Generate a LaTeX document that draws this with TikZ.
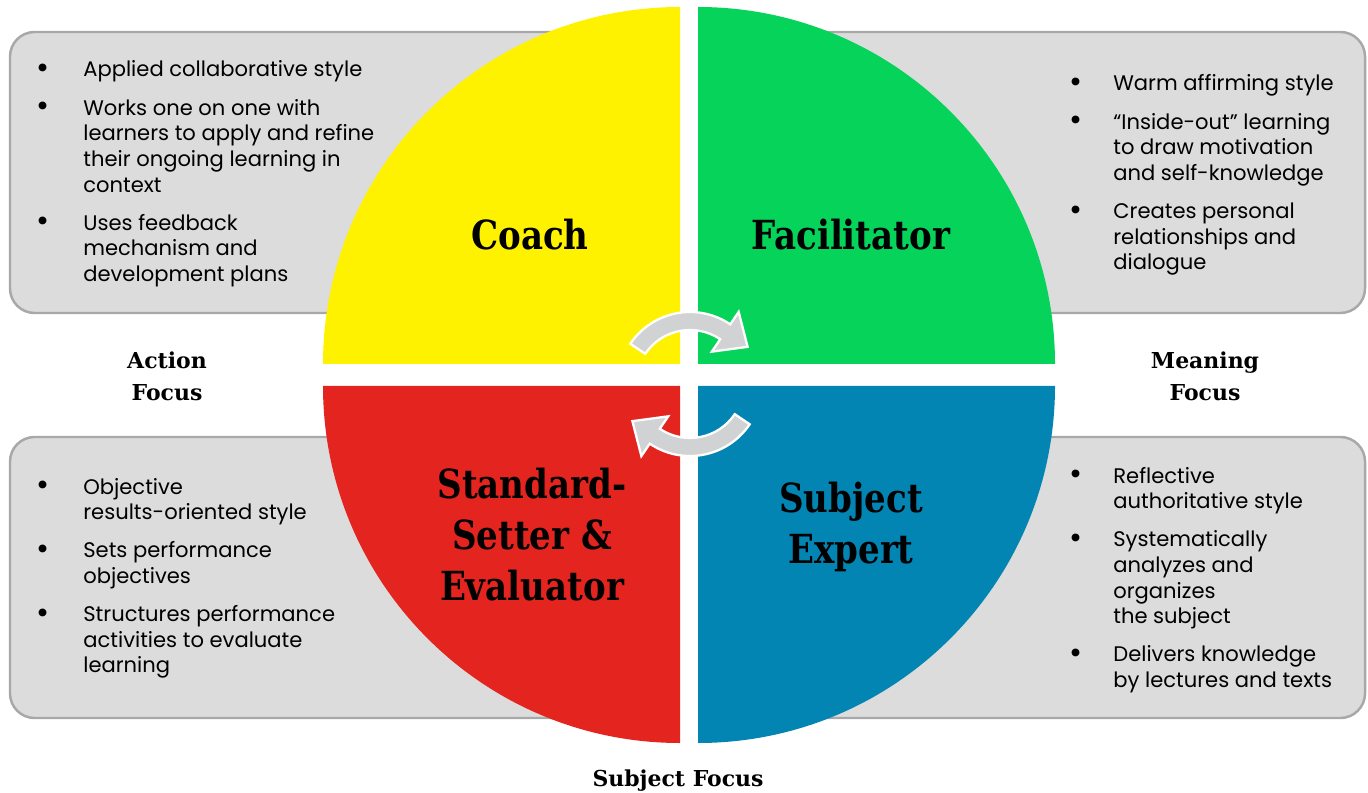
\documentclass[tikz,border=0pt]{standalone}
\usepackage{fontspec}
\setmainfont{Poppins}
\newfontfamily\headfont[FakeStretch=0.85]{DejaVu Serif}
\newfontfamily\focusfont{DejaVu Serif}
\usetikzlibrary{calc}
\newdimen\px \px=0.5691pt
\definecolor{coachyellow}{HTML}{FFF200}
\definecolor{facilgreen}{HTML}{05D35A}
\definecolor{setterred}{HTML}{E4241F}
\definecolor{expertblue}{HTML}{0385B4}
\definecolor{panelgray}{HTML}{DCDCDC}
\definecolor{panelline}{HTML}{A8A8A8}
\definecolor{arrowgray}{HTML}{D1D2D4}
\tikzset{
  panel/.style={fill=panelgray, draw=panelline, line width=1.4pt, rounded corners=14pt},
  turnarrow/.style={fill=arrowgray, draw=white, line width=1.3pt, line join=miter},
  listtext/.style={anchor=base west, inner sep=0pt, font=\fontsize{12}{14.6}\selectfont},
  rolelabel/.style={inner sep=0pt, align=center, font=\headfont\bfseries\fontsize{22.8}{29}\selectfont},
  focuslabel/.style={inner sep=0pt, align=center, font=\focusfont\bfseries\fontsize{12.5}{18.2}\selectfont}
}
\newcommand{\itemgap}{\\[12.5\px]}
\newcommand{\dotmark}{\raisebox{-0.15ex}{\fontsize{18}{10}\selectfont\textbullet}}
\begin{document}
\begin{tikzpicture}[x=0.02cm, y=-0.02cm]
  \useasboundingbox (0,0) rectangle (1368,793);
  \draw[panel] (10,32) rectangle (640,313);
  \draw[panel] (740,32) rectangle (1365,313);
  \draw[panel] (10,437) rectangle (640,718);
  \draw[panel] (740,437) rectangle (1365,718);
  \fill[coachyellow] (680,364) -- (323,364) arc[start angle=180, end angle=270, radius=357] -- cycle;
  \fill[facilgreen] (698,364) -- (698,7) arc[start angle=270, end angle=360, radius=357] -- cycle;
  \fill[setterred] (680,386) -- (680,743) arc[start angle=90, end angle=180, radius=357] -- cycle;
  \fill[expertblue] (698,386) -- (1055,386) arc[start angle=0, end angle=90, radius=357] -- cycle;
  \coordinate (turn) at (690,384);
  \begin{scope}
    \draw[turnarrow] ($(turn)+(214:72)$) arc[start angle=214, end angle=304, radius=72]
      -- ($(turn)+(304:87)$) -- ($(turn)+(304:63)+(34:27)$) -- ($(turn)+(304:39)$)
      -- ($(turn)+(304:54)$) arc[start angle=304, end angle=214, radius=54] -- cycle;
  \end{scope}
  \begin{scope}[rotate around={180:(689,375)}]
    \draw[turnarrow] ($(turn)+(214:72)$) arc[start angle=214, end angle=304, radius=72]
      -- ($(turn)+(304:87)$) -- ($(turn)+(304:63)+(34:27)$) -- ($(turn)+(304:39)$)
      -- ($(turn)+(304:54)$) arc[start angle=304, end angle=214, radius=54] -- cycle;
  \end{scope}
  \node[rolelabel, anchor=base] (coach) at (530,250) {Coach};
  \node[rolelabel, anchor=base] (facilitator) at (851,250) {Facilitator};
  \node[rolelabel] (setter) at (532,535) {Standard-\\Setter \&\\Evaluator};
  \node[rolelabel] (expert) at (851,527) {Subject\\Expert};
  \node[focuslabel] (actionfocus) at (167,376) {Action\\Focus};
  \node[focuslabel] (meaningfocus) at (1205,376) {Meaning\\Focus};
  \node[focuslabel, anchor=base] (subjectfocus) at (678,786) {Subject Focus};
  \node[listtext] (coachlist) at (36,77) {\begin{tabular}[t]{@{}p{47\px}@{}l@{}}
    \dotmark & Applied collaborative style\itemgap
    \dotmark & Works one on one with\\
      & learners to apply and refine\\
      & their ongoing learning in\\
      & context\itemgap
    \dotmark & Uses feedback\\
      & mechanism and\\
      & development plans
  \end{tabular}};
  \node[listtext] (facilitatorlist) at (1069,91) {\begin{tabular}[t]{@{}p{44\px}@{}l@{}}
    \dotmark & Warm affirming style\itemgap
    \dotmark & “Inside-out” learning\\
      & to draw motivation\\
      & and self-knowledge\itemgap
    \dotmark & Creates personal\\
      & relationships and\\
      & dialogue
  \end{tabular}};
  \node[listtext] (setterlist) at (36,494) {\begin{tabular}[t]{@{}p{47\px}@{}l@{}}
    \dotmark & Objective\\
      & results-oriented style\itemgap
    \dotmark & Sets performance\\
      & objectives\itemgap
    \dotmark & Structures performance\\
      & activities to evaluate\\
      & learning
  \end{tabular}};
  \node[listtext] (expertlist) at (1069,483) {\begin{tabular}[t]{@{}p{44\px}@{}l@{}}
    \dotmark & Reflective\\
      & authoritative style\itemgap
    \dotmark & Systematically\\
      & analyzes and\\
      & organizes\\
      & the subject\itemgap
    \dotmark & Delivers knowledge\\
      & by lectures and texts
  \end{tabular}};
\end{tikzpicture}
\end{document}
